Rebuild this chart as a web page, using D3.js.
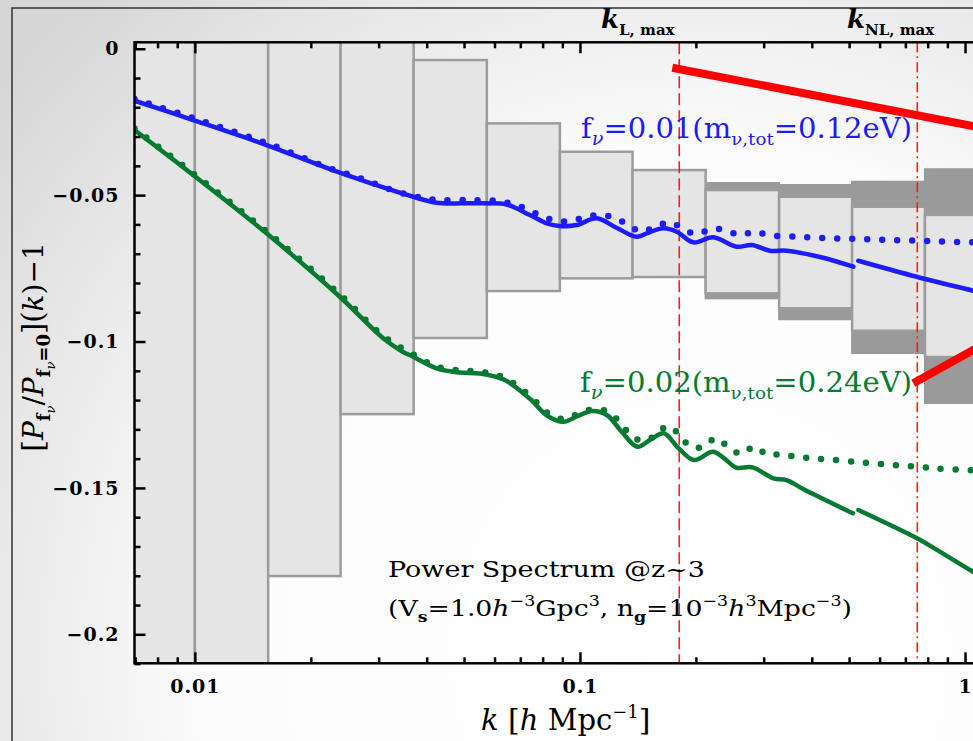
<!DOCTYPE html>
<html><head><meta charset="utf-8">
<script src="https://cdn.jsdelivr.net/npm/d3@7"></script>
<style>body{margin:0;background:#fff;} svg{display:block;}</style>
</head><body>
<svg id="chart" width="973" height="741"></svg>
<script>
// ---------- data ----------
const kMajorTicks = [0.01, 0.1, 1];
const kTickLabels = ["0.01", "0.1", "1"];
const yMajorTicks = [0, -0.05, -0.1, -0.15, -0.2];
const yTickLabels = ["0", "\u22120.05", "\u22120.1", "\u22120.15", "\u22120.2"];

// error boxes (bins in k)
const binEdges   = [0.00646, 0.01, 0.0155, 0.0239, 0.037, 0.0573, 0.0887, 0.137, 0.212, 0.329, 0.509, 0.787, 1.22];
const innerHi = [0.02, 0.02, 0.02, 0.01, -0.00386, -0.02548, -0.03518, -0.04143, -0.04826, -0.05055, -0.05396, -0.05676];
const innerLo = [-0.25, -0.25, -0.1801, -0.1248, -0.0988, -0.08275, -0.07842, -0.07797, -0.08354, -0.08863, -0.09631, -0.10529];
const outerHi = [null, null, null, null, null, null, null, null, -0.04587, -0.04655, -0.04542, -0.04115];
const outerLo = [null, null, null, null, null, null, null, null, -0.08525, -0.09239, -0.10393, -0.12100];

// f_nu = 0.01 (blue)
const blueSolidA = [[0.00697,-0.01776],[0.0099,-0.02435],[0.01535,-0.03289],[0.02379,-0.04235],[0.0369,-0.05055],
  [0.04245,-0.0526],[0.04977,-0.0528],[0.05723,-0.0528],[0.0645,-0.05321],[0.07418,-0.0568],[0.08197,-0.05963],
  [0.08873,-0.06055],[0.09803,-0.06021],[0.1105,-0.05792],[0.1248,-0.06124],[0.1404,-0.06421],[0.152,-0.0626],
  [0.1646,-0.06134],[0.1783,-0.0625],[0.1969,-0.06612],[0.2219,-0.06441],[0.2553,-0.06762],[0.2793,-0.06704],
  [0.3115,-0.06899],[0.3442,-0.06899],[0.4201,-0.07114],[0.5128,-0.07445]];
const blueSolidB = [[0.5283,-0.0724],[0.749,-0.07787],[1.049,-0.08265],[1.168,-0.08419]];
const blueDotted = [[0.00697,-0.01718],[0.0099,-0.02367],[0.01535,-0.03221],[0.02265,-0.04109],[0.02683,-0.04416],
  [0.0319,-0.04792],[0.03795,-0.05065],[0.04278,-0.05167],[0.05118,-0.05167],[0.06124,-0.05202],[0.06699,-0.05304],
  [0.07283,-0.05475],[0.07904,-0.05704],[0.08609,-0.05861],[0.09419,-0.05895],[0.103,-0.05758],[0.1122,-0.0568],
  [0.1225,-0.05758],[0.1327,-0.05997],[0.1446,-0.0625],[0.1582,-0.06055],[0.1713,-0.05929],[0.1855,-0.06158],
  [0.2009,-0.06329],[0.2198,-0.06158],[0.2379,-0.06192],[0.2603,-0.06363],[0.2848,-0.0625],[0.3083,-0.06363],
  [0.369,-0.06421],[0.4415,-0.06475],[0.5283,-0.06499],[0.6322,-0.06534],[0.7561,-0.06557],[0.9049,-0.06592],[1.168,-0.06619]];

// f_nu = 0.02 (green)
const greenSolidA = [[0.00697,-0.02777],[0.0099,-0.04314],[0.01535,-0.06305],[0.02379,-0.0847],[0.03084,-0.09891],
  [0.03463,-0.10348],[0.0369,-0.10519],[0.04245,-0.10915],[0.04879,-0.11059],[0.05498,-0.11093],[0.06378,-0.11315],
  [0.07473,-0.11998],[0.08177,-0.1251],[0.09056,-0.12739],[0.09881,-0.12544],[0.1073,-0.12374],[0.1174,-0.1251],
  [0.1285,-0.13091],[0.1408,-0.13593],[0.152,-0.13364],[0.165,-0.13135],[0.1805,-0.13648],[0.1976,-0.14047],
  [0.2213,-0.13764],[0.2366,-0.13979],[0.2542,-0.14303],[0.2806,-0.14297],[0.3178,-0.14672],[0.344,-0.1473],
  [0.3809,-0.15048],[0.5112,-0.15868]];
const greenSolidB = [[0.5285,-0.15755],[0.7505,-0.16721],[0.8407,-0.17097],[1.049,-0.17862],[1.168,-0.18197]];
const greenDotted = [[0.00697,-0.02725],[0.0099,-0.04262],[0.01535,-0.06243],[0.02379,-0.08395],[0.03084,-0.09812],
  [0.0369,-0.10444],[0.04245,-0.10854],[0.04879,-0.1099],[0.05498,-0.11025],[0.06378,-0.11247],[0.07473,-0.11896],
  [0.08177,-0.12408],[0.09056,-0.12647],[0.09881,-0.12476],[0.1073,-0.12323],[0.117,-0.12374],[0.1258,-0.12705],
  [0.133,-0.13081],[0.144,-0.13388],[0.1566,-0.13227],[0.1687,-0.12886],[0.1817,-0.13193],[0.1932,-0.13593],
  [0.2091,-0.13593],[0.2254,-0.13306],[0.2423,-0.13593],[0.2623,-0.13842],[0.2838,-0.13593],[0.3073,-0.13876],
  [0.3326,-0.13852],[0.364,-0.13934],[0.3986,-0.13989],[0.4362,-0.14023],[0.5171,-0.14105],[0.6194,-0.14194],
  [0.7471,-0.14276],[0.8894,-0.14355],[1.168,-0.14423]];

// red thick lines
const redUpper = [[0.1737,-0.00649],[1.168,-0.0276]];
const redLower = [[0.734,-0.11428],[1.168,-0.09949]];

// scale limits
const kLinear = 0.1811;     // k_L,max
const kNonLinear = 0.7517;  // k_NL,max

// ---------- drawing ----------
const svg = d3.select("#chart");
const W = 973, H = 741;
const L = 134.5, R = 991, T = 42.3, B = 663.3;
const x = d3.scaleLog().domain([0.00697, 1.168]).range([L, R]);
const y = d3.scaleLinear().domain([-0.2099, 0.0022]).range([B, T]);

const defs = svg.append("defs");
const rg = defs.append("radialGradient").attr("id","bg").attr("gradientUnits","userSpaceOnUse")
  .attr("cx",700).attr("cy",650).attr("r",900);
rg.append("stop").attr("offset",0).attr("stop-color","#ffffff");
rg.append("stop").attr("offset",0.55).attr("stop-color","#fcfcfc");
rg.append("stop").attr("offset",1).attr("stop-color","#d6d6d6");
defs.append("clipPath").attr("id","plotclip").append("rect")
  .attr("x",L).attr("y",T).attr("width",R-L).attr("height",B-T);

svg.append("rect").attr("width",W).attr("height",H).attr("fill","url(#bg)");
svg.append("rect").attr("x",12).attr("y",8).attr("width",1100).attr("height",900)
  .attr("fill","none").attr("stroke","#333").attr("stroke-width",1.5);

const plot = svg.append("g").attr("clip-path","url(#plotclip)");

// boxes
const bins = innerHi.map((h,i)=>({k0:binEdges[i],k1:binEdges[i+1],ih:h,il:innerLo[i],oh:outerHi[i],ol:outerLo[i]}));
plot.selectAll("rect.outer").data(bins.filter(d=>d.oh!==null)).join("rect").attr("class","outer")
  .attr("x",d=>x(d.k0)).attr("width",d=>x(d.k1)-x(d.k0))
  .attr("y",d=>y(d.oh)).attr("height",d=>y(d.ol)-y(d.oh))
  .attr("fill","#9a9a9a").attr("stroke","#9a9a9a").attr("stroke-width",2);
plot.selectAll("rect.inner").data(bins).join("rect").attr("class","inner")
  .attr("x",d=>x(d.k0)).attr("width",d=>x(d.k1)-x(d.k0))
  .attr("y",d=>y(d.ih)).attr("height",d=>y(d.il)-y(d.ih))
  .attr("fill","#e5e5e5").attr("stroke","#9c9c9c").attr("stroke-width",2.5);

// vertical k-limit lines
plot.append("line").attr("x1",x(kLinear)).attr("x2",x(kLinear)).attr("y1",T).attr("y2",B)
  .attr("stroke","#ff1a1a").attr("stroke-width",1.6).attr("stroke-dasharray","12 5");
plot.append("line").attr("x1",x(kNonLinear)).attr("x2",x(kNonLinear)).attr("y1",T).attr("y2",B)
  .attr("stroke","#ff1a1a").attr("stroke-width",1.6).attr("stroke-dasharray","10 4 2 4");

// curves
const line = d3.line().x(d=>x(d[0])).y(d=>y(d[1])).curve(d3.curveCatmullRom.alpha(0.5));
const BLUE = "#1c1cff", GREEN = "#067a30", RED = "#ff0000";
plot.append("path").attr("d",line(blueDotted)).attr("fill","none").attr("stroke",BLUE)
  .attr("stroke-width",6.5).attr("stroke-linecap","round").attr("stroke-dasharray","0 15");
plot.append("path").attr("d",line(greenDotted)).attr("fill","none").attr("stroke",GREEN)
  .attr("stroke-width",6.5).attr("stroke-linecap","round").attr("stroke-dasharray","0 15");
[blueSolidA, blueSolidB].forEach(s=>plot.append("path").attr("d",line(s)).attr("fill","none")
  .attr("stroke",BLUE).attr("stroke-width",4.5).attr("stroke-linecap","round"));
[greenSolidA, greenSolidB].forEach(s=>plot.append("path").attr("d",line(s)).attr("fill","none")
  .attr("stroke",GREEN).attr("stroke-width",4.5).attr("stroke-linecap","round"));
const straight = d3.line().x(d=>x(d[0])).y(d=>y(d[1]));
[redUpper, redLower].forEach(s=>plot.append("path").attr("d",straight(s)).attr("fill","none")
  .attr("stroke",RED).attr("stroke-width",8));

// axes
const kMinor = [];
[0.001,0.01,0.1,1].forEach(dec=>{for(let m=2;m<=9;m++){const v=dec*m; if(v>0.00697&&v<1.168) kMinor.push(v);}});
const yMinor = d3.range(0,-0.2101,-0.01).map(v=>+v.toFixed(2)).filter(v=>yMajorTicks.indexOf(v)<0);
const tickFont = g=>g.selectAll("text").style("font-family","DejaVu Serif").style("font-weight","bold")
  .style("font-size","19px").style("letter-spacing","1px").attr("fill","#000");
const styleAxis = g=>{g.select(".domain").remove(); g.selectAll("line").attr("stroke","#000").attr("stroke-width",2.5);};

svg.append("g").attr("transform",`translate(0,${B})`)
  .call(d3.axisBottom(x).tickValues(kMajorTicks).tickSizeInner(-11).tickSizeOuter(0).tickPadding(16)
    .tickFormat((d,i)=>kTickLabels[i])).call(styleAxis).call(tickFont);
svg.append("g").attr("transform",`translate(0,${B})`)
  .call(d3.axisBottom(x).tickValues(kMinor).tickSizeInner(-6).tickSizeOuter(0).tickFormat("")).call(styleAxis);
svg.append("g").attr("transform",`translate(0,${T})`)
  .call(d3.axisTop(x).tickValues(kMajorTicks).tickSizeInner(-11).tickSizeOuter(0).tickFormat("")).call(styleAxis);
svg.append("g").attr("transform",`translate(0,${T})`)
  .call(d3.axisTop(x).tickValues(kMinor).tickSizeInner(-6).tickSizeOuter(0).tickFormat("")).call(styleAxis);
svg.append("g").attr("transform",`translate(${L},0)`)
  .call(d3.axisLeft(y).tickValues(yMajorTicks).tickSizeInner(-11).tickSizeOuter(0).tickPadding(15)
    .tickFormat((d,i)=>yTickLabels[i])).call(styleAxis).call(tickFont);
svg.append("g").attr("transform",`translate(${L},0)`)
  .call(d3.axisLeft(y).tickValues(yMinor).tickSizeInner(-6).tickSizeOuter(0).tickFormat("")).call(styleAxis);
svg.append("g").attr("transform",`translate(${R},0)`)
  .call(d3.axisRight(y).tickValues(yMajorTicks).tickSizeInner(-11).tickSizeOuter(0).tickFormat("")).call(styleAxis);

// frame
svg.append("rect").attr("x",L).attr("y",T).attr("width",R-L).attr("height",B-T)
  .attr("fill","none").attr("stroke","#000").attr("stroke-width",2.5);

// rich-text helper
function rich(parent, xx, yy, parts, opts){
  const t = parent.append("text").attr("x",xx).attr("y",yy)
    .style("font-family","DejaVu Serif").style("font-size",opts.size+"px").attr("fill",opts.color||"#000");
  if(opts.anchor) t.attr("text-anchor",opts.anchor);
  if(opts.transform) t.attr("transform",opts.transform);
  if(opts.length) t.attr("textLength",opts.length).attr("lengthAdjust","spacingAndGlyphs");
  if(opts.weight) t.style("font-weight",opts.weight);
  let cur = 0;
  parts.forEach(p=>{
    const s = t.append("tspan").text(p.t);
    const target = p.dy||0;
    if(target!==cur){ s.attr("dy", target-cur); cur = target; }
    if(p.size) s.style("font-size",p.size+"px");
    if(p.it) s.style("font-style","italic");
    if(p.b) s.style("font-weight","bold");
  });
  return t;
}

// curve labels
rich(svg, 581, 138, [{t:"f"},{t:"\u03bd",dy:7,size:18,it:true},{t:"=0.01(m"},{t:"\u03bd,tot",dy:7,size:17},{t:"=0.12eV)"}],
  {size:27,color:BLUE,length:331});
rich(svg, 580, 392, [{t:"f"},{t:"\u03bd",dy:7,size:18,it:true},{t:"=0.02(m"},{t:"\u03bd,tot",dy:7,size:17},{t:"=0.24eV)"}],
  {size:27,color:GREEN,length:332});

// annotation
rich(svg, 388, 577, [{t:"Power Spectrum @z~3"}], {size:23, length:317});
rich(svg, 388, 616, [{t:"(V"},{t:"s",dy:6,size:15,b:true},{t:"=1.0"},{t:"h",it:true},{t:"\u22123",dy:-10,size:15},
  {t:"Gpc"},{t:"3",dy:-10,size:15},{t:", n"},{t:"g",dy:6,size:15,b:true},{t:"=10"},{t:"\u22123",dy:-10,size:15},
  {t:"h",it:true},{t:"3",dy:-10,size:15},{t:"Mpc"},{t:"\u22123",dy:-10,size:15},{t:")"}], {size:23, length:464});

// top k-limit labels
rich(svg, 601, 28, [{t:"k",it:true,b:true,size:26},{t:"L, max",dy:7,size:15,b:true}], {size:26});
rich(svg, 847, 28, [{t:"k",it:true,b:true,size:26},{t:"NL, max",dy:7,size:15,b:true}], {size:26});

// axis titles
rich(svg, 481, 730, [{t:"k",it:true},{t:" [",size:30},{t:"h",it:true},{t:" Mpc"},{t:"\u22121",dy:-12,size:18},{t:"]",dy:0,size:30}],
  {size:29});
rich(svg, 0, 0, [{t:"[",size:30},{t:"P",it:true},{t:"f",dy:7,size:18,b:true},{t:"\u03bd",dy:12,size:13,it:true},
  {t:"/",dy:0},{t:"P",it:true},{t:"f",dy:7,size:18,b:true},{t:"\u03bd",dy:12,size:13,it:true},{t:"=0",dy:7,size:18,b:true},
  {t:"](",dy:0,size:29},{t:"k",it:true},{t:")\u22121"}],
  {size:28, anchor:"middle", transform:"translate(43,347) rotate(-90)"});
</script>
</body></html>
